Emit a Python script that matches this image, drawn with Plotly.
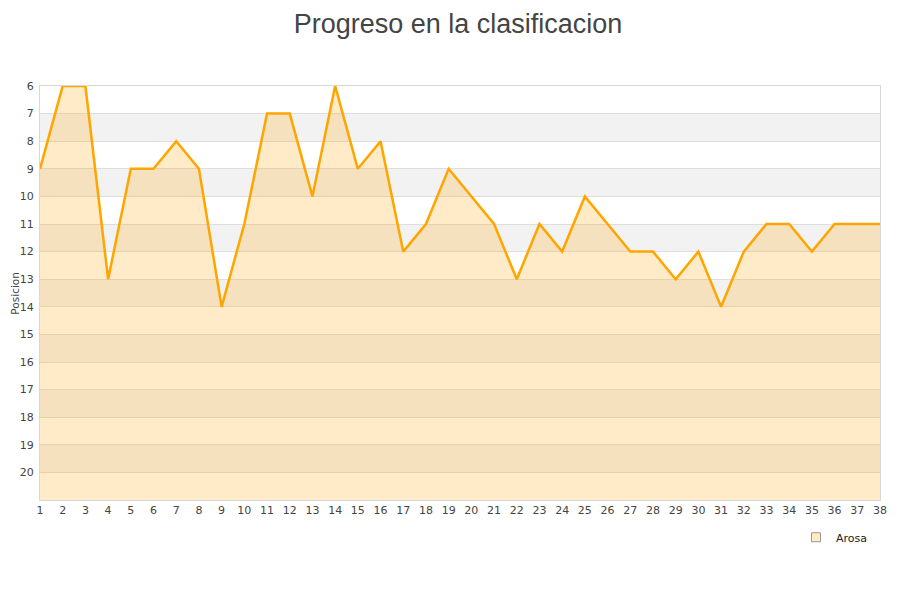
import plotly.graph_objects as go

# Datos: jornada y posicion de Arosa
jornadas = list(range(1, 39))
posiciones = [9, 6, 6, 13, 9, 9, 8, 9, 14, 11,
              7, 7, 10, 6, 9, 8, 12, 11, 9, 10,
              11, 13, 11, 12, 10, 11, 12, 12, 13, 12,
              14, 12, 11, 11, 12, 11, 11, 11]
equipo = "Arosa"
y_ticks = list(range(6, 21))
fondo = 21

fig = go.Figure()

# linea base invisible para rellenar hasta el fondo del grafico
fig.add_trace(go.Scatter(
    x=jornadas, y=[fondo] * len(jornadas),
    mode="lines", line=dict(width=0, color="rgba(0,0,0,0)"),
    showlegend=False, hoverinfo="skip"
))

fig.add_trace(go.Scatter(
    x=jornadas, y=posiciones,
    mode="lines", name=equipo, showlegend=False,
    line=dict(color="#FFA500", width=2.5),
    fill="tonexty", fillcolor="rgba(255,165,0,0.22)",
))

# entrada de leyenda con cuadrado
fig.add_trace(go.Scatter(
    x=[None], y=[None], mode="markers", name=equipo,
    marker=dict(symbol="square", size=9, color="#FFEBC6",
                line=dict(color="#999", width=1)),
))

# bandas alternas grises
shapes = []
for y0 in range(7, 21, 2):
    shapes.append(dict(
        type="rect", xref="paper", yref="y", x0=0, x1=1, y0=y0, y1=y0 + 1,
        fillcolor="#f2f2f2", line=dict(width=0), layer="below"
    ))

fig.update_layout(
    width=900, height=600,
    paper_bgcolor="white", plot_bgcolor="white",
    margin=dict(l=32, r=28, t=78, b=108),
    font=dict(family="DejaVu Sans", size=11, color="#444"),
    title=dict(text="Progreso en la clasificacion", x=0.5, xanchor="center",
               y=0.99, yanchor="top",
               font=dict(family="Liberation Sans", size=27, color="#444")),
    shapes=shapes,
    showlegend=True,
    legend=dict(x=0.9, y=-0.09, xanchor="left", yanchor="middle",
                font=dict(family="DejaVu Sans", size=11, color="#222"),
                bgcolor="rgba(0,0,0,0)", itemwidth=30),
    annotations=[dict(text="Posicion", xref="paper", yref="paper",
                      x=-0.0302, y=0.5, xanchor="center", yanchor="middle",
                      textangle=-90, showarrow=False,
                      font=dict(size=10.5, color="#444"))],
    xaxis=dict(range=[1, 38], tickmode="array", tickvals=jornadas,
               showgrid=False, zeroline=False, showline=True,
               linecolor="#d8d8d8", mirror=True, ticks="", automargin=False),
    yaxis=dict(range=[fondo, 6], tickmode="array", tickvals=y_ticks,
               showgrid=True, gridcolor="#dedede", zeroline=False,
               showline=True, linecolor="#d8d8d8", mirror=True,
               automargin=False, ticklabelstandoff=3),
)

fig.write_html("out.html")
